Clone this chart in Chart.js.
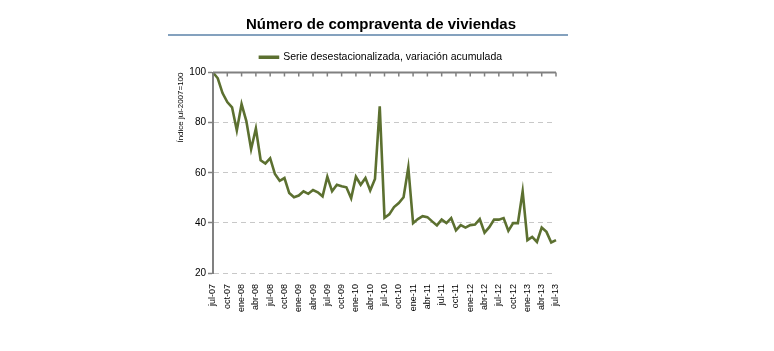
<!DOCTYPE html>
<html>
<head>
<meta charset="utf-8">
<script src="https://cdn.jsdelivr.net/npm/chart.js@4.4.0/dist/chart.umd.min.js"></script>
<style>
  html, body { margin: 0; padding: 0; background: #fff; }
  #wrap { position: relative; width: 774px; height: 351px; }
</style>
</head>
<body>
<div id="wrap"><canvas id="grafico"></canvas></div>
<script>
// Meses, de jul-07 a jul-13
const categorias = [
  'jul-07','ago-07','sep-07','oct-07','nov-07','dic-07',
  'ene-08','feb-08','mar-08','abr-08','may-08','jun-08','jul-08','ago-08','sep-08','oct-08','nov-08','dic-08',
  'ene-09','feb-09','mar-09','abr-09','may-09','jun-09','jul-09','ago-09','sep-09','oct-09','nov-09','dic-09',
  'ene-10','feb-10','mar-10','abr-10','may-10','jun-10','jul-10','ago-10','sep-10','oct-10','nov-10','dic-10',
  'ene-11','feb-11','mar-11','abr-11','may-11','jun-11','jul-11','ago-11','sep-11','oct-11','nov-11','dic-11',
  'ene-12','feb-12','mar-12','abr-12','may-12','jun-12','jul-12','ago-12','sep-12','oct-12','nov-12','dic-12',
  'ene-13','feb-13','mar-13','abr-13','may-13','jun-13','jul-13'
];

// Serie desestacionalizada (índice jul-2007 = 100)
const valores = [
  100, 97.7, 91.8, 88.2, 86.1, 76.9,
  87.4, 80.6, 69.4, 77.7, 65.0, 63.7, 65.8, 59.5, 56.8, 57.9, 51.9, 50.2,
  50.9, 52.6, 51.6, 53.1, 52.2, 50.6, 58.4, 52.6, 55.2, 54.6, 54.2, 49.8,
  58.4, 55.2, 57.9, 52.9, 57.5, 86.5, 42.0, 43.4, 46.3, 47.9, 50.2, 62.1,
  39.9, 41.5, 42.7, 42.3, 40.6, 39.0, 41.3, 39.9, 41.9, 37.0, 39.1, 38.1,
  39.1, 39.3, 41.5, 36.1, 38.3, 41.3, 41.3, 41.9, 36.8, 39.9, 39.9, 52.6,
  33.1, 34.4, 32.4, 38.1, 36.4, 32.2, 33.1
];

const ejeY = { min: 20, max: 100, paso: 20 };
const cadaMeses = 3; // etiqueta cada trimestre

const fuente = 'Liberation Sans, Arial, sans-serif';

// regla azul bajo el título y marcas del eje superior
const decoracion = {
  id: 'decoracion',
  afterDraw(chart) {
    const ctx = chart.ctx;
    const a = chart.chartArea;
    const x = chart.scales.x;
    ctx.save();
    const yRegla = chart.titleBlock.bottom - 13;
    ctx.strokeStyle = '#5b82a8';
    ctx.lineWidth = 1.5;
    ctx.beginPath();
    ctx.moveTo(a.left - 45, yRegla);
    ctx.lineTo(a.right + 12, yRegla);
    ctx.stroke();

    ctx.strokeStyle = '#808080';
    ctx.lineWidth = 2;
    ctx.beginPath();
    ctx.moveTo(a.left, a.top);
    ctx.lineTo(a.right, a.top);
    ctx.stroke();
    ctx.lineWidth = 1.5;
    categorias.forEach((c, i) => {
      if (i % cadaMeses) return;
      const px = x.getPixelForValue(i);
      ctx.beginPath();
      ctx.moveTo(px, a.top);
      ctx.lineTo(px, a.top + 4);
      ctx.stroke();
    });
    ctx.restore();
  }
};

new Chart(document.getElementById('grafico'), {
  type: 'line',
  data: {
    labels: categorias,
    datasets: [{
      label: 'Serie desestacionalizada, variación acumulada',
      data: valores,
      borderColor: '#5c7030',
      backgroundColor: '#5c7030',
      borderWidth: 2.6,
      pointRadius: 0,
      tension: 0,
      clip: false
    }]
  },
  options: {
    responsive: true,
    maintainAspectRatio: false,
    animation: false,
    devicePixelRatio: 1,
    layout: { padding: { left: 168, right: 180, top: 0, bottom: 0 } },
    plugins: {
      title: {
        display: true,
        text: 'Número de compraventa de viviendas',
        color: '#000',
        font: { family: fuente, size: 15, weight: 'bold' },
        padding: { top: 16, bottom: 14 }
      },
      legend: {
        display: true,
        labels: {
          color: '#000',
          font: { family: fuente, size: 10.5 },
          boxWidth: 18,
          boxHeight: 1,
          padding: 4
        }
      },
      tooltip: { enabled: false }
    },
    scales: {
      x: {
        type: 'category',
        position: 'bottom',
        offset: false,
        grid: { display: false },
        border: { display: false },
        ticks: {
          autoSkip: false,
          maxRotation: 90,
          minRotation: 90,
          padding: 3,
          color: '#000',
          font: { family: fuente, size: 9 },
          callback: (v, i) => (i % cadaMeses === 0 ? categorias[i] : '')
        },
        afterFit(s) { s.height = 78; }
      },
      xSup: {
        type: 'category',
        position: 'top',
        display: true,
        grid: { display: false },
        border: { display: false },
        ticks: { display: false },
        afterFit(s) { s.height = 0; }
      },
      y: {
        min: ejeY.min,
        max: ejeY.max,
        ticks: {
          stepSize: ejeY.paso,
          padding: 2,
          color: '#000',
          font: { family: fuente, size: 10 }
        },
        grid: { color: '#c8c8c8', lineWidth: 1, tickColor: '#808080', tickLength: 5, tickWidth: 1.5 },
        border: { display: true, color: '#808080', width: 2, dash: [5, 4] },
        title: {
          display: true,
          text: 'Índice jul-2007=100',
          align: 'end',
          color: '#000',
          font: { family: fuente, size: 8 },
          padding: { top: 8, bottom: 0 }
        },
        afterFit(s) { s.width = 45; }
      },
      yDer: {
        position: 'right',
        display: true,
        grid: { display: false },
        border: { display: false },
        ticks: { display: false },
        afterFit(s) { s.width = 38; }
      }
    }
  },
  plugins: [decoracion]
});
</script>
</body>
</html>
